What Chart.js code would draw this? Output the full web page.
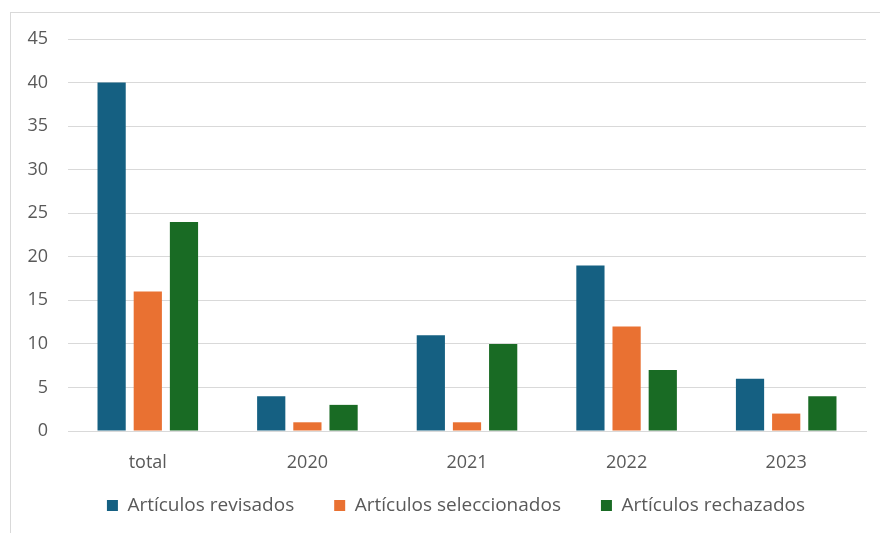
<!DOCTYPE html>
<html>
<head>
<meta charset="utf-8">
<script src="https://cdn.jsdelivr.net/npm/chart.js@4"></script>
<style>
    body { margin: 0; background: #fff; }
    #wrap { position: relative; width: 880px; height: 533px; }
    #frame { position: absolute; left: 10px; top: 12px; right: 0; bottom: 0;
             border-left: 1px solid #d9d9d9; border-top: 1px solid #d9d9d9; }
    canvas { position: absolute; left: 0; top: 0; }
</style>
</head>
<body>
<div id="wrap">
    <div id="frame"></div>
    <canvas id="chart" width="880" height="533"></canvas>
</div>
<script>
// --- Data ---
const categories = ["total", "2020", "2021", "2022", "2023"];
const revisados = [40, 4, 11, 19, 6];
const seleccionados = [16, 1, 1, 12, 2];
const rechazados = [24, 3, 10, 7, 4];
const seriesNames = ["Artículos revisados", "Artículos seleccionados", "Artículos rechazados"];
const yTicks = [0, 5, 10, 15, 20, 25, 30, 35, 40, 45];

const colors = ["#156082", "#E97132", "#196B24"];
const textColor = "#595959";
const gridColor = "#d9d9d9";
const family = "'Open Sans', 'Liberation Sans', sans-serif";

// labels can spill outside their (tight) scale boxes
function noLabelClip(scale) {
    scale._computeLabelArea = () => undefined;
}

const ctx = document.getElementById('chart').getContext('2d');
new Chart(ctx, {
    type: 'bar',
    data: {
        labels: categories,
        datasets: [revisados, seleccionados, rechazados].map((d, i) => ({
            label: seriesNames[i],
            data: d,
            backgroundColor: colors[i],
            borderWidth: 0,
            barPercentage: 0.78,
            categoryPercentage: 0.68
        }))
    },
    options: {
        responsive: false,
        animation: false,
        layout: { padding: { top: 39, right: 14, bottom: 8, left: 46 } },
        plugins: {
            tooltip: { enabled: false },
            legend: {
                position: 'bottom',
                labels: {
                    color: textColor,
                    font: { family: family, size: 19 },
                    boxWidth: 11,
                    boxHeight: 11,
                    padding: 40
                }
            }
        },
        scales: {
            x: {
                grid: { display: false, drawTicks: false },
                border: { color: gridColor, width: 1 },
                ticks: { color: textColor, font: { family: family, size: 18 }, padding: 21 },
                afterFit: (scale) => { scale.height = 25; noLabelClip(scale); }
            },
            y: {
                min: 0,
                max: 45,
                afterBuildTicks: (scale) => { scale.ticks = yTicks.map(v => ({ value: v })); },
                grid: { color: gridColor, lineWidth: 1, drawTicks: false },
                border: { display: false },
                ticks: { color: textColor, font: { family: family, size: 18 }, padding: 20 },
                afterFit: (scale) => { scale.width = 22; noLabelClip(scale); }
            }
        }
    }
});
</script>
</body>
</html>
